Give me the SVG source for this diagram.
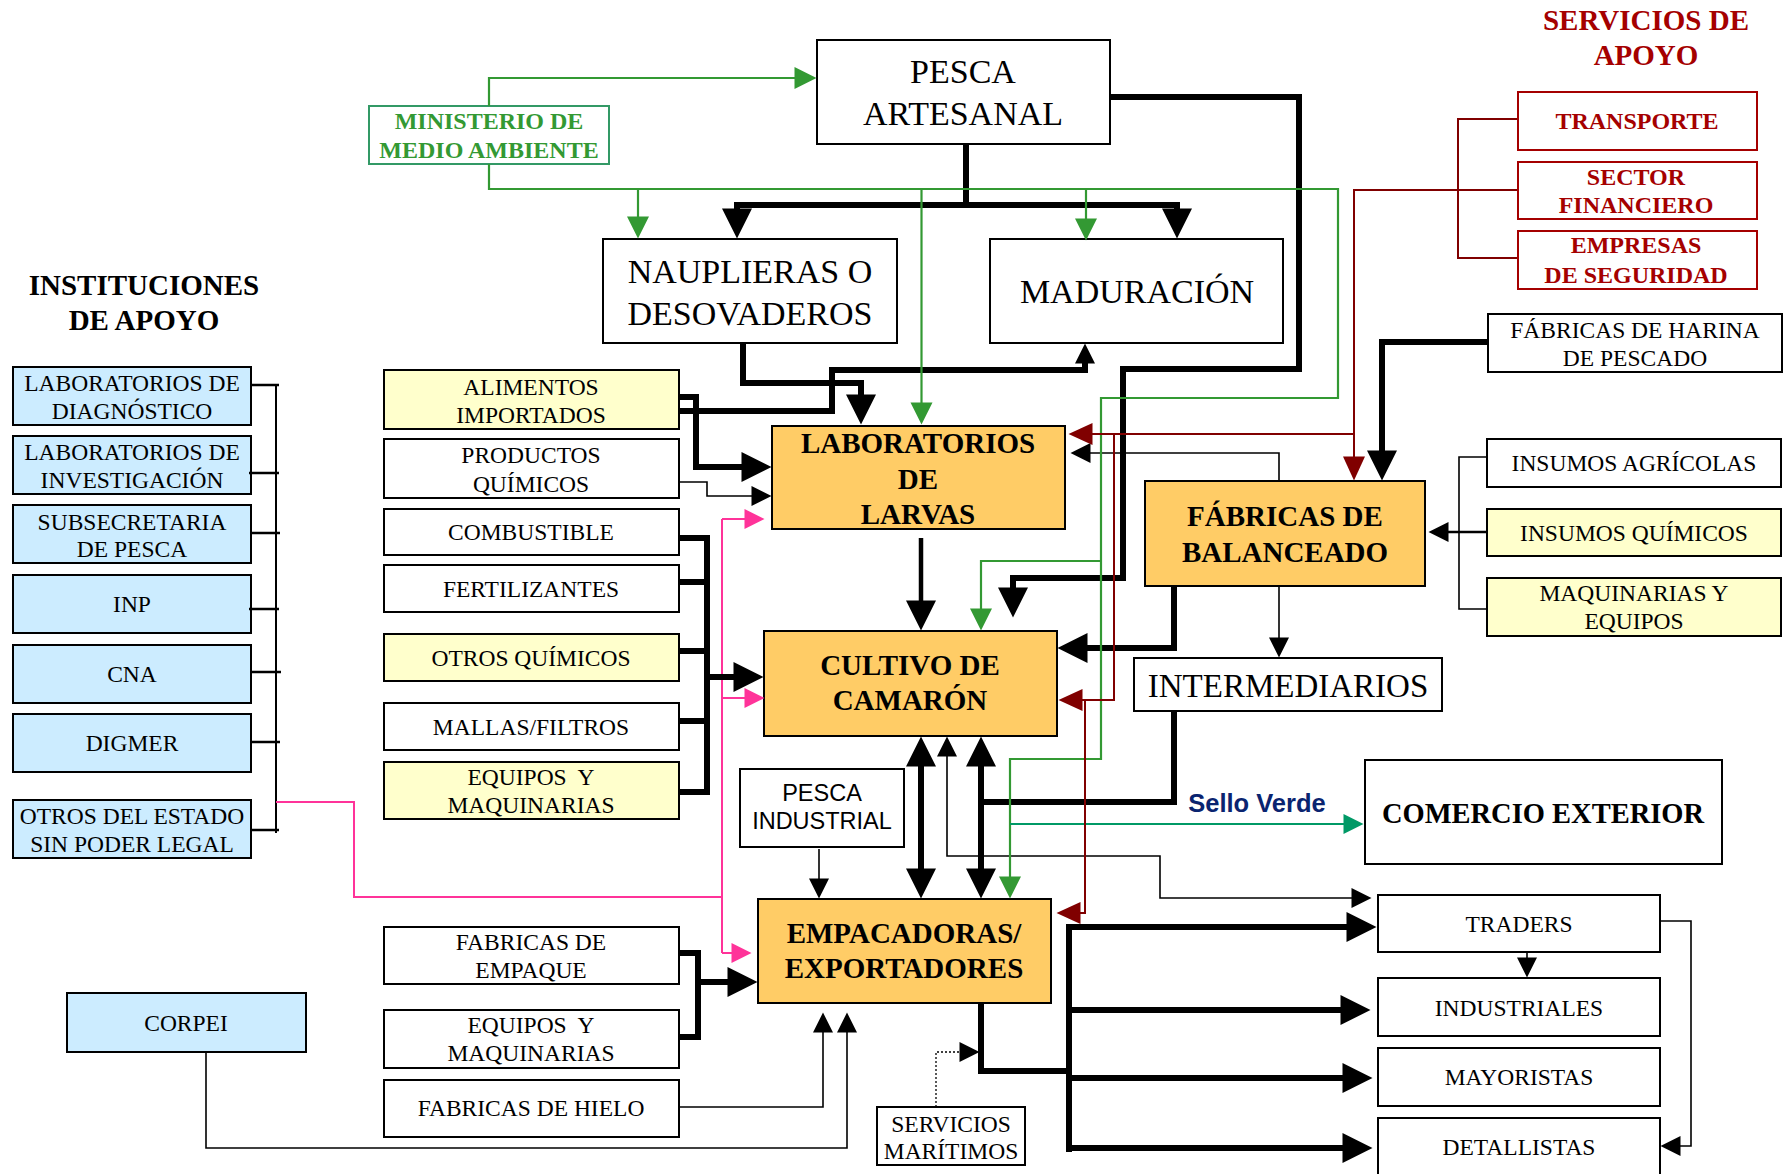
<svg xmlns="http://www.w3.org/2000/svg" width="1792" height="1174" viewBox="0 0 1792 1174">
<style>
.box{stroke:#000;stroke-width:2}
.blue{fill:#CCECFF}.yel{fill:#FFFFCC}.wht{fill:#FFFFFF}.org{fill:#FFCC66}
.t{font-family:"Liberation Serif","Times New Roman",serif;font-size:23.5px;text-anchor:middle;fill:#000}
.tb{font-family:"Liberation Serif","Times New Roman",serif;font-size:29px;font-weight:bold;text-anchor:middle;fill:#000}
.tl{font-family:"Liberation Serif","Times New Roman",serif;font-size:34px;text-anchor:middle;fill:#000}
.ts{font-family:"Liberation Sans",Arial,sans-serif;font-size:23.5px;text-anchor:middle;fill:#000}
.red{font-family:"Liberation Serif","Times New Roman",serif;font-size:24px;font-weight:bold;text-anchor:middle;fill:#A50000}
.grn{font-family:"Liberation Serif","Times New Roman",serif;font-size:24px;font-weight:bold;text-anchor:middle;fill:#339933}
.thick{fill:none;stroke:#000;stroke-width:6}
.thin{fill:none;stroke:#000;stroke-width:1.6}
.mid{fill:none;stroke:#000;stroke-width:2.5}
.gl{fill:none;stroke:#339933;stroke-width:2.2}
.tl2{fill:none;stroke:#009966;stroke-width:2.2}
.pl{fill:none;stroke:#FF3399;stroke-width:2}
.rl{fill:none;stroke:#800000;stroke-width:2}
</style>
<defs>
<marker id="aBig" markerUnits="userSpaceOnUse" orient="auto-start-reverse" markerWidth="31" markerHeight="31" refX="0.5" refY="15" overflow="visible"><path d="M0,0 L30,15 L0,30 z" fill="#000"/></marker>
<marker id="aMed" markerUnits="userSpaceOnUse" orient="auto-start-reverse" markerWidth="21" markerHeight="21" refX="0.5" refY="10" overflow="visible"><path d="M0,0 L20,10 L0,20 z" fill="#000"/></marker>
<marker id="aGrn" markerUnits="userSpaceOnUse" orient="auto-start-reverse" markerWidth="23" markerHeight="23" refX="0.5" refY="11" overflow="visible"><path d="M0,0 L22,11 L0,22 z" fill="#339933"/></marker>
<marker id="aPnk" markerUnits="userSpaceOnUse" orient="auto-start-reverse" markerWidth="21" markerHeight="21" refX="0.5" refY="10" overflow="visible"><path d="M0,0 L20,10 L0,20 z" fill="#FF3399"/></marker>
<marker id="aRed" markerUnits="userSpaceOnUse" orient="auto-start-reverse" markerWidth="25" markerHeight="23" refX="0.5" refY="11" overflow="visible"><path d="M0,0 L24,11 L0,22 z" fill="#800000"/></marker>
<marker id="aTeal" markerUnits="userSpaceOnUse" orient="auto-start-reverse" markerWidth="21" markerHeight="21" refX="0.5" refY="10" overflow="visible"><path d="M0,0 L20,10 L0,20 z" fill="#009966"/></marker>
</defs>
<rect width="1792" height="1174" fill="#FFFFFF"/>

<g id="titles">
<text class="tb" x="144" y="295">INSTITUCIONES</text>
<text class="tb" x="144" y="330">DE APOYO</text>
<text class="tb" x="1646" y="30" fill="#A50000" style="fill:#A50000">SERVICIOS DE</text>
<text class="tb" x="1646" y="65" style="fill:#A50000">APOYO</text>
</g>

<g id="nodes">
<g id="lab_diag"><rect class="box blue" x="13" y="367" width="238" height="58"/><text class="t" x="132" y="391">LABORATORIOS DE</text><text class="t" x="132" y="419">DIAGNÓSTICO</text></g>
<g id="lab_inv"><rect class="box blue" x="13" y="436" width="238" height="58"/><text class="t" x="132" y="460">LABORATORIOS DE</text><text class="t" x="132" y="488">INVESTIGACIÓN</text></g>
<g id="subsecretaria"><rect class="box blue" x="13" y="505" width="238" height="58"/><text class="t" x="132" y="530">SUBSECRETARIA</text><text class="t" x="132" y="557">DE PESCA</text></g>
<g id="inp"><rect class="box blue" x="13" y="575" width="238" height="58"/><text class="t" x="132" y="612">INP</text></g>
<g id="cna"><rect class="box blue" x="13" y="645" width="238" height="58"/><text class="t" x="132" y="682">CNA</text></g>
<g id="digmer"><rect class="box blue" x="13" y="714" width="238" height="58"/><text class="t" x="132" y="751">DIGMER</text></g>
<g id="otros_estado"><rect class="box blue" x="13" y="800" width="238" height="58"/><text class="t" x="132" y="824">OTROS DEL ESTADO</text><text class="t" x="132" y="852">SIN PODER LEGAL</text></g>
<g id="corpei"><rect class="box blue" x="67" y="993" width="239" height="59"/><text class="t" x="186" y="1031">CORPEI</text></g>

<g id="alimentos"><rect class="box yel" x="384" y="370" width="295" height="59"/><text class="t" x="531" y="395">ALIMENTOS</text><text class="t" x="531" y="423">IMPORTADOS</text></g>
<g id="productos"><rect class="box wht" x="384" y="439" width="295" height="59"/><text class="t" x="531" y="463">PRODUCTOS</text><text class="t" x="531" y="492">QUÍMICOS</text></g>
<g id="combustible"><rect class="box wht" x="384" y="509" width="295" height="46"/><text class="t" x="531" y="540">COMBUSTIBLE</text></g>
<g id="fertilizantes"><rect class="box wht" x="384" y="565" width="295" height="47"/><text class="t" x="531" y="597">FERTILIZANTES</text></g>
<g id="otros_quimicos"><rect class="box yel" x="384" y="634" width="295" height="47"/><text class="t" x="531" y="666">OTROS QUÍMICOS</text></g>
<g id="mallas"><rect class="box wht" x="384" y="703" width="295" height="47"/><text class="t" x="531" y="735">MALLAS/FILTROS</text></g>
<g id="equipos1"><rect class="box yel" x="384" y="762" width="295" height="57"/><text class="t" x="531" y="785" xml:space="preserve">EQUIPOS  Y</text><text class="t" x="531" y="813">MAQUINARIAS</text></g>
<g id="fab_empaque"><rect class="box wht" x="384" y="927" width="295" height="57"/><text class="t" x="531" y="950">FABRICAS DE</text><text class="t" x="531" y="978">EMPAQUE</text></g>
<g id="equipos2"><rect class="box wht" x="384" y="1010" width="295" height="58"/><text class="t" x="531" y="1033" xml:space="preserve">EQUIPOS  Y</text><text class="t" x="531" y="1061">MAQUINARIAS</text></g>
<g id="fab_hielo"><rect class="box wht" x="384" y="1080" width="295" height="57"/><text class="t" x="531" y="1116">FABRICAS DE HIELO</text></g>

<g id="ministerio"><rect x="369" y="106" width="240" height="58" fill="#FFFFFF" stroke="#339966" stroke-width="2"/><text class="grn" x="489" y="129">MINISTERIO DE</text><text class="grn" x="489" y="158">MEDIO AMBIENTE</text></g>
<g id="pesca_artesanal"><rect class="box wht" x="817" y="40" width="293" height="104"/><text class="tl" x="963" y="83">PESCA</text><text class="tl" x="963" y="125">ARTESANAL</text></g>
<g id="naupleras"><rect class="box wht" x="603" y="239" width="294" height="104"/><text class="tl" x="750" y="283">NAUPLIERAS O</text><text class="tl" x="750" y="325">DESOVADEROS</text></g>
<g id="maduracion"><rect class="box wht" x="990" y="239" width="293" height="104"/><text class="tl" x="1137" y="303">MADURACIÓN</text></g>
<g id="lab_larvas"><rect class="box org" x="772" y="426" width="293" height="103"/><text class="tb" x="918" y="453">LABORATORIOS</text><text class="tb" x="918" y="489">DE</text><text class="tb" x="918" y="524">LARVAS</text></g>
<g id="cultivo"><rect class="box org" x="764" y="631" width="293" height="105"/><text class="tb" x="910" y="675">CULTIVO DE</text><text class="tb" x="910" y="710">CAMARÓN</text></g>
<g id="balanceado"><rect class="box org" x="1145" y="481" width="280" height="105"/><text class="tb" x="1285" y="526">FÁBRICAS DE</text><text class="tb" x="1285" y="562">BALANCEADO</text></g>
<g id="intermediarios"><rect class="box wht" x="1134" y="658" width="308" height="53"/><text class="tl" x="1288" y="697" style="font-size:33px">INTERMEDIARIOS</text></g>
<g id="pesca_industrial"><rect class="box wht" x="740" y="769" width="164" height="78"/><text class="ts" x="822" y="801">PESCA</text><text class="ts" x="822" y="829">INDUSTRIAL</text></g>
<g id="empacadoras"><rect class="box org" x="758" y="899" width="293" height="104"/><text class="tb" x="904" y="943">EMPACADORAS/</text><text class="tb" x="904" y="978">EXPORTADORES</text></g>
<g id="servicios_maritimos"><rect class="box wht" x="877" y="1107" width="148" height="58"/><text class="t" x="951" y="1132">SERVICIOS</text><text class="t" x="951" y="1159">MARÍTIMOS</text></g>
<g id="comercio_exterior"><rect class="box wht" x="1365" y="760" width="357" height="104"/><text class="tb" x="1543" y="823" style="font-size:28.5px">COMERCIO EXTERIOR</text></g>
<g id="traders"><rect class="box wht" x="1378" y="895" width="282" height="57"/><text class="t" x="1519" y="932">TRADERS</text></g>
<g id="industriales"><rect class="box wht" x="1378" y="978" width="282" height="58"/><text class="t" x="1519" y="1016">INDUSTRIALES</text></g>
<g id="mayoristas"><rect class="box wht" x="1378" y="1048" width="282" height="58"/><text class="t" x="1519" y="1085">MAYORISTAS</text></g>
<g id="detallistas"><rect class="box wht" x="1378" y="1118" width="282" height="64"/><text class="t" x="1519" y="1155">DETALLISTAS</text></g>
<g id="harina"><rect class="box wht" x="1488" y="314" width="294" height="58"/><text class="t" x="1635" y="338">FÁBRICAS DE HARINA</text><text class="t" x="1635" y="366">DE PESCADO</text></g>
<g id="insumos_agricolas"><rect class="box wht" x="1487" y="439" width="294" height="48"/><text class="t" x="1634" y="471">INSUMOS AGRÍCOLAS</text></g>
<g id="insumos_quimicos"><rect class="box yel" x="1487" y="509" width="294" height="47"/><text class="t" x="1634" y="541">INSUMOS QUÍMICOS</text></g>
<g id="maquinarias_equipos"><rect class="box yel" x="1487" y="578" width="294" height="58"/><text class="t" x="1634" y="601">MAQUINARIAS Y</text><text class="t" x="1634" y="629">EQUIPOS</text></g>
<g id="transporte"><rect x="1518" y="92" width="239" height="58" fill="#FFFFFF" stroke="#A50000" stroke-width="2"/><text class="red" x="1637" y="129">TRANSPORTE</text></g>
<g id="sector_financiero"><rect x="1518" y="162" width="239" height="57" fill="#FFFFFF" stroke="#A50000" stroke-width="2"/><text class="red" x="1636" y="185">SECTOR</text><text class="red" x="1636" y="213">FINANCIERO</text></g>
<g id="empresas_seguridad"><rect x="1518" y="231" width="239" height="58" fill="#FFFFFF" stroke="#A50000" stroke-width="2"/><text class="red" x="1636" y="253">EMPRESAS</text><text class="red" x="1636" y="283">DE SEGURIDAD</text></g>
</g>

<g id="connectors">
<!-- instituciones bracket -->
<path class="thin" d="M276,385 V833" style="stroke-width:2"/>
<path class="mid" d="M251,385 H279 M249,473 H279 M251,533 H280 M249,609 H279 M251,672 H281 M251,742 H280 M251,830 H279"/>
<!-- pink -->
<path class="pl" d="M276,802 H354 V897 H722 M722,519 V953"/>
<path class="pl" d="M722,519 H745" marker-end="url(#aPnk)"/>
<path class="pl" d="M722,698 H745" marker-end="url(#aPnk)"/>
<path class="pl" d="M722,953 H732" marker-end="url(#aPnk)"/>
<!-- pesca artesanal -->
<path class="thick" d="M966,144 V205"/>
<path class="thick" d="M737,209 V205 H1177 V209" marker-start="url(#aBig)" marker-end="url(#aBig)"/>
<path class="thick" d="M1110,97 H1299 V369 H1123 V578 H1013 V588" marker-end="url(#aBig)"/>
<path class="thick" d="M743,343 V383 H861 V395" marker-end="url(#aBig)"/>
<!-- alimentos -->
<path class="thick" d="M679,411 H832 V370 H1085 V363" marker-end="url(#aMed)"/>
<path class="thick" d="M679,397 H696 V467 H742" marker-end="url(#aBig)"/>
<path class="thin" d="M679,482 H707 V496 H752" marker-end="url(#aMed)"/>
<!-- insumos bracket to cultivo -->
<path class="thick" d="M679,538 H707 V792 H679 M679,582 H707 M679,651 H707 M679,721 H707"/>
<path class="thick" d="M707,677 H734" marker-end="url(#aBig)"/>
<path class="thin" d="M921,538 V601" style="stroke-width:4.5" marker-end="url(#aBig)"/>
<!-- harina / balanceado -->
<path class="thick" d="M1488,342 H1382 V451" marker-end="url(#aBig)"/>
<path class="thin" d="M1487,457 H1459 V609 H1487"/>
<path class="mid" d="M1487,532 H1448" marker-end="url(#aMed)"/>
<path class="thin" d="M1279,481 V453 H1090" marker-end="url(#aMed)"/>
<path class="thick" d="M1174,586 V648 H1087" marker-end="url(#aBig)"/>
<path class="thin" d="M1279,586 V638" marker-end="url(#aMed)"/>
<path class="thick" d="M1174,711 V802 H981"/>
<!-- cultivo / empacadoras -->
<path class="thick" d="M921,766 V869" marker-start="url(#aBig)" marker-end="url(#aBig)"/>
<path class="thick" d="M981,766 V869" marker-start="url(#aBig)" marker-end="url(#aBig)"/>
<path class="thin" d="M947,756 V856 H1160 V898 H1352" marker-start="url(#aMed)" marker-end="url(#aMed)"/>
<path class="thin" d="M819,849 V879" marker-end="url(#aMed)"/>
<path class="thick" d="M679,953 H698 V1037 H679"/>
<path class="thick" d="M698,982 H728" marker-end="url(#aBig)"/>
<path class="thin" d="M679,1107 H823 V1032" marker-end="url(#aMed)"/>
<path class="thin" d="M206,1052 V1148 H847 V1032" marker-end="url(#aMed)"/>
<path class="thin" d="M936,1107 V1052 H960" style="stroke-width:1.3;stroke-dasharray:2,2" marker-end="url(#aMed)"/>
<!-- distribution -->
<path class="thick" d="M981,1003 V1071 H1069 M1069,924 V1152"/>
<path class="thick" d="M1069,927 H1347" marker-end="url(#aBig)"/>
<path class="thick" d="M1069,1010 H1341" marker-end="url(#aBig)"/>
<path class="thick" d="M1069,1078 H1343" marker-end="url(#aBig)"/>
<path class="thick" d="M1069,1148 H1343" marker-end="url(#aBig)"/>
<path class="thin" d="M1527,952 V958" marker-end="url(#aMed)"/>
<path class="thin" d="M1660,921 H1691 V1146 H1680" marker-end="url(#aMed)"/>
<!-- green -->
<path class="gl" d="M489,106 V78 H795" marker-end="url(#aGrn)"/>
<path class="gl" d="M489,164 V189 H1338 V398 H1101 V759 H1010 V877" marker-end="url(#aGrn)"/>
<path class="gl" d="M638,189 V217" marker-end="url(#aGrn)"/>
<path class="gl" d="M921.5,189 V403" marker-end="url(#aGrn)"/>
<path class="gl" d="M1086,189 V219" marker-end="url(#aGrn)"/>
<path class="gl" d="M1101,561 H981 V609" marker-end="url(#aGrn)"/>
<path class="tl2" d="M1010,824 H1344" marker-end="url(#aTeal)"/>
<text x="1257" y="812" style="font-family:'Liberation Sans',Arial,sans-serif;font-size:25.5px;font-weight:bold;fill:#0A2470;text-anchor:middle">Sello Verde</text>
<!-- red -->
<path class="rl" d="M1517,119 H1458 V258 H1517"/>
<path class="rl" d="M1517,190 H1354 V457" marker-end="url(#aRed)"/>
<path class="rl" d="M1354,434 H1092" marker-end="url(#aRed)"/>
<path class="rl" d="M1114,434 V700 H1082" marker-end="url(#aRed)"/>
<path class="rl" d="M1085,700 V913 H1080" marker-end="url(#aRed)"/>
</g>
</svg>
